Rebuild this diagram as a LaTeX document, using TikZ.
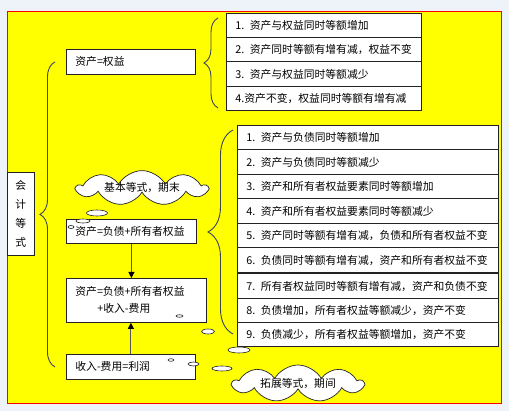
\documentclass[tikz,border=0pt]{standalone}
\usepackage{fontspec}
\setmainfont{Noto Sans CJK SC}
\usetikzlibrary{arrows.meta, positioning, calc, shapes.symbols, shapes.geometric, decorations.pathreplacing}
\definecolor{pagebg}{HTML}{EEF3FA}
\definecolor{panelyellow}{HTML}{FFFF00}
\definecolor{panelred}{HTML}{FF0000}
\definecolor{bracegray}{HTML}{3C4658}
\definecolor{boxline}{HTML}{222222}
\definecolor{arrowgray}{HTML}{555555}
\newcommand{\diagfont}{\fontsize{10.8}{13}\selectfont}
\tikzset{
  rowbox/.style={draw=boxline, fill=white, line width=0.9pt, anchor=north west,
                 text width=#1, inner xsep=9pt, inner ysep=0pt,
                 align=left, font=\diagfont},
  eqbox/.style={draw=boxline, fill=white, line width=0.8pt, anchor=north west,
                text width=#1, inner xsep=9pt, inner ysep=0pt,
                align=left, font=\diagfont},
  sidebox/.style={draw=boxline, fill=white, line width=0.8pt, anchor=north west,
                  text width=27pt, inner sep=0pt, minimum height=83pt,
                  align=center, font=\fontsize{10.8}{19}\selectfont},
  thought/.style={cloud, cloud puffs=9, cloud puff arc=120, cloud ignores aspect,
                  draw=boxline, fill=white, line width=0.7pt, inner sep=0pt,
                  font=\diagfont},
  puff/.style={ellipse, draw=boxline, fill=white, line width=0.6pt, inner sep=0pt},
  bracket/.style={decorate, decoration={brace, amplitude=#1}, draw=bracegray, line width=0.9pt},
  flowarrow/.style={-{Triangle[length=6pt, width=6pt, color=black]}, draw=arrowgray, line width=0.9pt},
}

\begin{document}
\begin{tikzpicture}[x=1pt, y=-1pt]
  \fill[pagebg] (0,0) rectangle (509,411);
  \useasboundingbox (0,0) rectangle (509,411);
  \draw[panelred, fill=panelyellow, line width=0.8pt] (7,11) rectangle (501,403);

  % left column
  \node[sidebox] (side) at (7,172) {会\\计\\等\\式};
  \node[eqbox=111pt, minimum height=25pt] (eqa) at (66,49) {资产=权益};
  \node[eqbox=112pt, minimum height=24pt] (eqb) at (66,219) {资产=负债+所有者权益};
  \node[eqbox=122pt, minimum height=44pt, font=\fontsize{10.8}{17}\selectfont] (eqc) at (66,278)
    {资产=负债+所有者权益\\\hspace*{22pt}+收入-费用};
  \node[eqbox=111pt, minimum height=25pt] (eqd) at (66,354) {收入-费用=利润};

  \draw[flowarrow] (eqb.south) -- (eqb.south |- eqc.north);
  \draw[flowarrow] (eqd.north) -- (eqd.north |- eqc.south);

  % first list
  \node[rowbox=177pt, minimum height=24.25pt] (a1) at (226,13)    {1. 资产与权益同时等额增加};
  \node[rowbox=177pt, minimum height=24.25pt] (a2) at (226,37.25) {2. 资产同时等额有增有减，权益不变};
  \node[rowbox=177pt, minimum height=24.25pt] (a3) at (226,61.5)  {3. 资产与权益同时等额减少};
  \node[rowbox=177pt, minimum height=24.25pt] (a4) at (226,85.75) {4.资产不变，权益同时等额有增有减};

  % second list
  \node[rowbox=243pt, minimum height=24.5pt] (b1) at (237,125)   {1. 资产与负债同时等额增加};
  \node[rowbox=243pt, minimum height=24.5pt] (b2) at (237,149.5) {2. 资产与负债同时等额减少};
  \node[rowbox=243pt, minimum height=24.5pt] (b3) at (237,174)   {3. 资产和所有者权益要素同时等额增加};
  \node[rowbox=243pt, minimum height=24.5pt] (b4) at (237,198.5) {4. 资产和所有者权益要素同时等额减少};
  \node[rowbox=243pt, minimum height=24.5pt] (b5) at (237,223)   {5. 资产同时等额有增有减，负债和所有者权益不变};
  \node[rowbox=243pt, minimum height=24.5pt] (b6) at (237,247.5) {6. 负债同时等额有增有减，资产和所有者权益不变};
  \node[rowbox=243pt, minimum height=24.2pt] (b7) at (237,273.5) {7. 所有者权益同时等额有增有减，资产和负债不变};
  \node[rowbox=243pt, minimum height=24.2pt] (b8) at (237,297.7) {8. 负债增加，所有者权益等额减少，资产不变};
  \node[rowbox=243pt, minimum height=24.2pt] (b9) at (237,321.9) {9. 负债减少，所有者权益等额增加，资产不变};

  % braces
  \draw[bracket=15pt] ($(eqd.west)+(-11,0)$) -- ($(eqa.west)+(-11,0)$);
  \draw[bracket=14pt] ($(a4.south west)+(-8,-3)$) -- ($(a1.north west)+(-8,5)$);
  \draw[bracket=25pt] ($(b9.south west)+(-4,-13)$) -- ($(b1.north west)+(-4,5)$);

  % thought bubbles
  \node[puff, minimum width=21pt, minimum height=6pt] (p1) at (97,213) {};
  \node[puff, minimum width=14pt, minimum height=4pt] (p2) at (83,221) {};
  \node[puff, minimum width=6pt, minimum height=3pt] (p3) at (71,227) {};
  \node[puff, minimum width=7pt, minimum height=2.5pt] (q1) at (179.5,316) {};
  \node[puff, minimum width=13pt, minimum height=5pt] (q2) at (208,331.5) {};
  \node[puff, minimum width=22pt, minimum height=6pt] (q3) at (239,350) {};
  \node[puff, minimum width=6pt, minimum height=2.5pt] (q4) at (171,360) {};
  \node[puff, minimum width=11pt, minimum height=4pt] (q5) at (193.5,364) {};
  \node[puff, minimum width=20pt, minimum height=5pt] (q6) at (222,368.5) {};

  \node[thought, minimum width=130pt, minimum height=30pt] (basic) at (142,188) {基本等式，期末};
  \node[thought, minimum width=130pt, minimum height=37pt] (extend) at (298,383.5) {拓展等式，期间};
\end{tikzpicture}
\end{document}
